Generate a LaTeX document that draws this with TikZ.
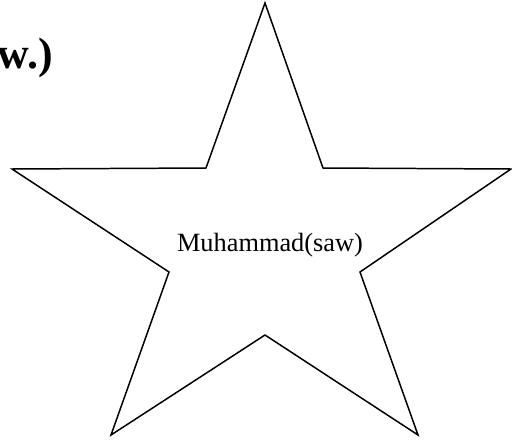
\documentclass[tikz,border=0pt]{standalone}
\usepackage{fontspec}
\setmainfont{Liberation Serif}
\usepackage{tikz}
\usetikzlibrary{positioning}

\begin{document}
\begin{tikzpicture}[
    x=0.02cm, y=-0.02cm,
    outline/.style={draw=black, line width=0.85pt, line join=miter},
    label/.style={font=\fontsize{15}{18}\selectfont, inner sep=0pt},
    cut/.style={font=\fontsize{25}{30}\selectfont\bfseries, inner sep=0pt}
]
    \useasboundingbox (0,0) rectangle (512,440);

    % Star points
    \coordinate (top) at (265,3);
    \coordinate (itl) at (206,168);
    \coordinate (lft) at (12,169);
    \coordinate (il) at (169,272);
    \coordinate (bl) at (111,435);
    \coordinate (ib) at (265,335);
    \coordinate (br) at (418,435);
    \coordinate (ir) at (360,272);
    \coordinate (rgt) at (511,169);
    \coordinate (itr) at (323,168);

    \draw[outline] (top) -- (itl) -- (lft) -- (il) -- (bl) -- (ib)
        -- (br) -- (ir) -- (rgt) -- (itr) -- cycle;

    \node[label] (name) at (270,245) {Muhammad(saw)};

    % Title cut off at the left edge
    \node[cut, anchor=base east] (title) at (53,68) {w.)};
\end{tikzpicture}
\end{document}
